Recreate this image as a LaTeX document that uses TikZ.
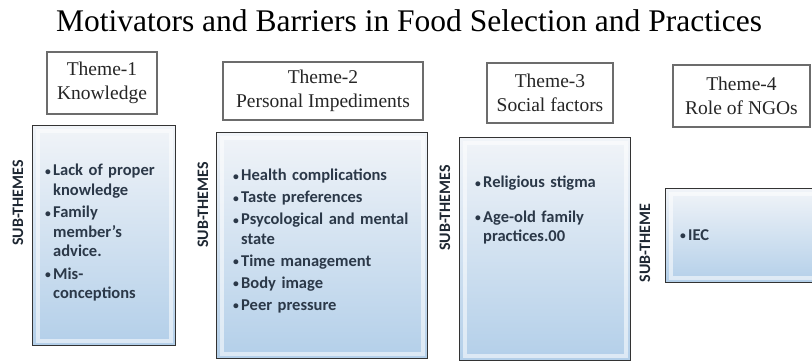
\documentclass[tikz,border=0pt]{standalone}
\usepackage{fontspec}
\setmainfont{Liberation Serif}
\newfontfamily\calib{Carlito}

\definecolor{subtop}{HTML}{F1F4F8}
\definecolor{subbot}{HTML}{B3CFE9}
\definecolor{subtext}{HTML}{2B3848}

% one bullet item with hanging lines
\newcommand{\bitem}[1]{\noindent\hangindent=8pt\hangafter=1%
	\makebox[8pt][l]{\raisebox{.5pt}{\scalebox{.7}{\textbullet}}}#1\par}

\begin{document}
\begin{tikzpicture}[x=1pt, y=-1pt,
	theme/.style={draw=gray!85!black, line width=1.2pt, fill=white, align=center,
		inner sep=0pt, text=black!85, font=\fontsize{19.5}{23.5}\selectfont},
	subbox/.style={draw=black!80, line width=1.3pt, top color=subtop, bottom color=subbot,
		inner sep=0pt, anchor=north west,
		path picture={\draw[white, opacity=.55, line width=4pt]
			([xshift=5pt, yshift=-5pt]path picture bounding box.north west) rectangle
			([xshift=-5pt, yshift=5pt]path picture bounding box.south east);}},
	sublist/.style={anchor=north west, inner sep=0pt, text width=190pt, align=left,
		text=subtext, font=\calib\bfseries\fontsize{16.5}{19.5}\selectfont},
	sublabel/.style={rotate=90, inner sep=0pt, text=subtext!70!black,
		font=\calib\bfseries\fontsize{16}{19}\selectfont}]
	\useasboundingbox (0,0) rectangle (812,361);

	% title
	\node[anchor=base] (title) at (409,32)
		{\fontsize{31.5}{36}\selectfont Motivators and Barriers in Food Selection and Practices};

	% themes
	\node[theme, minimum width=110pt, minimum height=62pt] (theme1) at (102,83) {Theme-1\\Knowledge};
	\node[theme, minimum width=200pt, minimum height=58pt] (theme2) at (323,91) {Theme-2\\Personal Impediments};
	\node[theme, minimum width=126pt, minimum height=60pt] (theme3) at (550,93) {Theme-3\\Social factors};
	\node[theme, minimum width=137pt, minimum height=62pt] (theme4) at (741.5,96) {Theme-4\\Role of NGOs};

	% sub-theme boxes
	\node[subbox, minimum width=143pt, minimum height=220pt] (sub1) at (32,125) {};
	\node[subbox, minimum width=211pt, minimum height=226pt] (sub2) at (216,132) {};
	\node[subbox, minimum width=171pt, minimum height=223pt] (sub3) at (459,137) {};
	\node[subbox, minimum width=160pt, minimum height=94pt] (sub4) at (665,188) {};

	% side labels
	\node[sublabel] (lab1) at (18,203) {SUB-THEMES};
	\node[sublabel] (lab2) at (203,205) {SUB-THEMES};
	\node[sublabel] (lab3) at (445,208) {SUB-THEMES};
	\node[sublabel] (lab4) at (645,243) {SUB-THEME};

	% sub-theme lists
	\node[sublist] (list1) at (45,164) {\setlength{\parskip}{3pt}%
		\bitem{Lack of proper\newline knowledge}
		\bitem{Family\newline member’s\newline advice.}
		\bitem{Mis-\newline conceptions}};
	\node[sublist] (list2) at (233,169) {\setlength{\parskip}{2.5pt}%
		\bitem{Health complications}
		\bitem{Taste preferences}
		\bitem{Psycological and mental\newline state}
		\bitem{Time management}
		\bitem{Body image}
		\bitem{Peer pressure}};
	\node[sublist] (list3) at (475,176) {\setlength{\parskip}{15pt}%
		\bitem{Religious stigma}
		\bitem{Age-old family\newline practices.00}};
	\node[sublist] (list4) at (680,229) {\bitem{IEC}};
\end{tikzpicture}
\end{document}
